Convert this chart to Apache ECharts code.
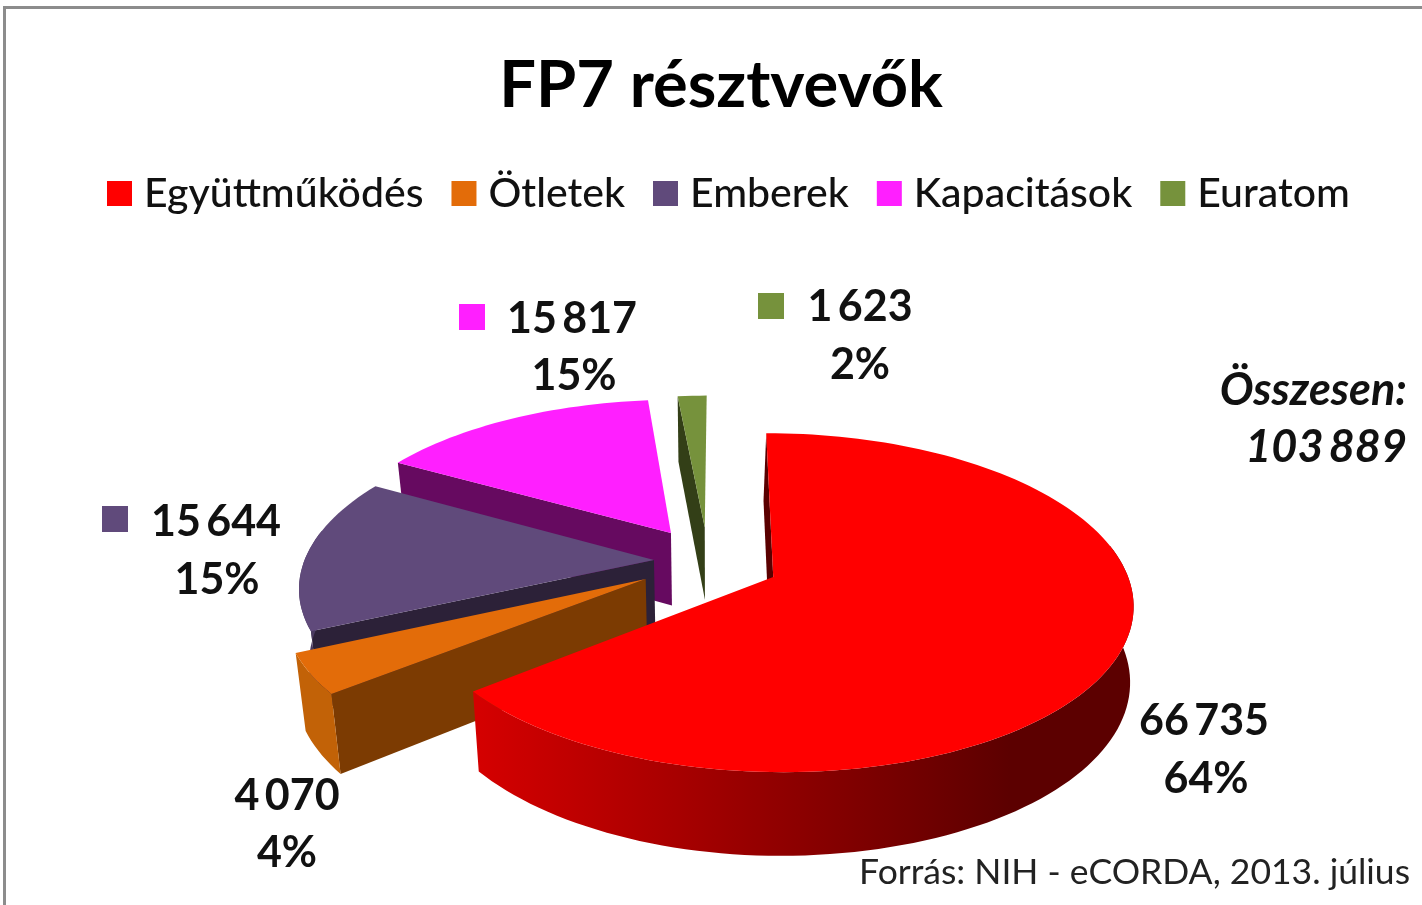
<!DOCTYPE html>
<html>
<head>
<meta charset="utf-8">
<style>
  html, body { margin: 0; padding: 0; background: #fff; }
  #chart { width: 1422px; height: 905px; }
</style>
<script src="https://cdn.jsdelivr.net/npm/echarts@6/dist/echarts.min.js"></script>
</head>
<body>
<div id="chart"></div>
<script>
var categories = ["Együttműködés", "Ötletek", "Emberek", "Kapacitások", "Euratom"];
var participants = [66735, 4070, 15644, 15817, 1623];
var titleText = "FP7 résztvevők";
var totalLabel = "Összesen:";
var sourceText = "Forrás: NIH - eCORDA, 2013. július";

// colours per slice: top, cut face, outer wall
var topColors = ["#ff0000", "#e36c09", "#604a7b", "#ff1fff", "#76923c"];
var cutColors = ["#5a0000", "#7c3b02", "#2c2138", "#660a60", "#333f17"];
var wallColors = [
  { type: "linear", x: 480, y: 0, x2: 1010, y2: 0, global: true,
    colorStops: [{ offset: 0, color: "#d40000" }, { offset: 1, color: "#5c0000" }] },
  "#c26207", "#4a3a60", "#660a60", "#333f17"
];

// hand-fitted tilted-disc projection
var view = { cx: 720, cy: 565, rx: 351, ry: 162, k: 0.15, depth: 74, vanishX: 712, shrink: 0.976 };

// how far each slice is pulled out of the pie, in disc radii [across, towards viewer]
var sliceOffsets = [[0.15, 0.073], [-0.209, 0.085], [-0.189, -0.031], [-0.144, -0.204], [-0.045, -0.24]];

// label anchors: [number x, number y, percent x, percent y], key square [x, y] or null
var labelAnchors = [
  [1204, 721, 1206, 779, null],
  [287, 796, 287, 853, null],
  [216, 522, 217, 580, [102, 506]],
  [572, 319, 574, 376, [459, 304]],
  [860, 307, 860, 365, [758, 293]]
];

var total = participants.reduce(function (a, b) { return a + b; }, 0);

function formatNumber(n) {
  return String(n).replace(/\B(?=(\d{3})+$)/g, "\u2009");
}

function project(u, v) {
  var w = 1 - view.k * v;
  return [view.cx + view.rx * u / w, view.cy + view.ry * v / w, w];
}

// bottom edge of the slab: left of the vanishing x it leans in, right of it only a few px
function lower(p) {
  var dx = p[0] - view.vanishX;
  var x = dx < 0 ? view.vanishX + dx * view.shrink : p[0] - Math.min(3.5, dx * 0.05);
  return [x, p[1] + view.depth / Math.pow(p[2], 0.7)];
}

function sliceAngles(index) {
  var before = 0;
  for (var i = 0; i < index; i++) before += participants[i];
  return [before / total * Math.PI * 2, (before + participants[index]) / total * Math.PI * 2];
}

function renderSlice(index, api) {
  var value = api.value(0);
  var angles = sliceAngles(index);
  var ou = sliceOffsets[index][0];
  var ov = sliceOffsets[index][1];
  var apex = project(ou, ov);
  var rim = [];
  var wall = [];
  var steps = Math.max(2, Math.ceil((angles[1] - angles[0]) / 0.03));
  for (var s = 0; s <= steps; s++) {
    var a = angles[0] + (angles[1] - angles[0]) * s / steps;
    var p = project(ou + Math.sin(a), ov - Math.cos(a));
    rim.push(p);
    // the far side of the wall faces away from the viewer
    if (Math.cos(a) < 0.2) wall.push(p);
  }
  var children = [];

  children.push({
    type: "polygon",
    z2: 1,
    shape: { points: [apex, rim[0], lower(rim[0]), lower(apex)] },
    style: { fill: cutColors[index] }
  });
  if (wall.length > 1) {
    children.push({
      type: "polygon",
      z2: 2,
      shape: { points: wall.concat(wall.map(lower).reverse()) },
      style: { fill: wallColors[index] }
    });
  }
  children.push({
    type: "polygon",
    z2: 3,
    shape: { points: [apex].concat(rim) },
    style: { fill: topColors[index] }
  });

  var anchor = labelAnchors[index];
  var labelFont = "bold 43px Lato, sans-serif";
  children.push({
    type: "text",
    z2: 4,
    style: { x: anchor[0], y: anchor[1], text: formatNumber(value), font: labelFont, fill: "#111", align: "center", verticalAlign: "middle" }
  });
  children.push({
    type: "text",
    z2: 4,
    style: { x: anchor[2], y: anchor[3], text: Math.round(value / total * 100) + "%", font: labelFont, fill: "#111", align: "center", verticalAlign: "middle" }
  });
  if (anchor[4]) {
    children.push({
      type: "rect",
      z2: 4,
      shape: { x: anchor[4][0], y: anchor[4][1], width: 26, height: 26 },
      style: { fill: topColors[index] }
    });
  }
  return { type: "group", children: children };
}

var chart = echarts.init(document.getElementById("chart"));
chart.setOption({
  animation: false,
  backgroundColor: "#fff",
  title: {
    text: titleText,
    left: 716,
    top: 49,
    textAlign: "center",
    textStyle: { fontFamily: "Lato, sans-serif", fontWeight: "bold", fontSize: 65, color: "#000" }
  },
  legend: {
    left: 102,
    top: 168,
    itemWidth: 25,
    itemHeight: 25,
    itemGap: 28,
    icon: "rect",
    textStyle: { fontFamily: "Lato, sans-serif", fontSize: 41, fontWeight: 500, color: "#111", padding: [0, 0, 0, 7] },
    data: categories
  },
  graphic: [
    { type: "polyline", silent: true, shape: { points: [[4.5, 905], [4.5, 7.5], [1422, 7.5]] }, style: { stroke: "#8c8c8c", fill: null, lineWidth: 3 } },
    { type: "text", silent: true, style: { x: 1407, y: 390, text: totalLabel, font: "italic bold 45px Lato, sans-serif", fill: "#111", align: "right", verticalAlign: "middle" } },
    { type: "text", silent: true, style: { x: 1407, y: 447, text: formatNumber(total), font: "italic bold 45px Lato, sans-serif", fill: "#111", align: "right", verticalAlign: "middle" } },
    { type: "text", silent: true, style: { x: 1410, y: 873, text: sourceText, font: "35.5px Lato, sans-serif", fill: "#222", align: "right", verticalAlign: "middle" } }
  ],
  series: categories.map(function (name, i) {
    return {
      type: "custom",
      name: name,
      coordinateSystem: "none",
      z: 10 - i + (i === 0 ? 10 : 0),
      itemStyle: { color: topColors[i] },
      renderItem: function (params, api) { return renderSlice(i, api); },
      data: [[participants[i]]]
    };
  })
});
</script>
</body>
</html>
